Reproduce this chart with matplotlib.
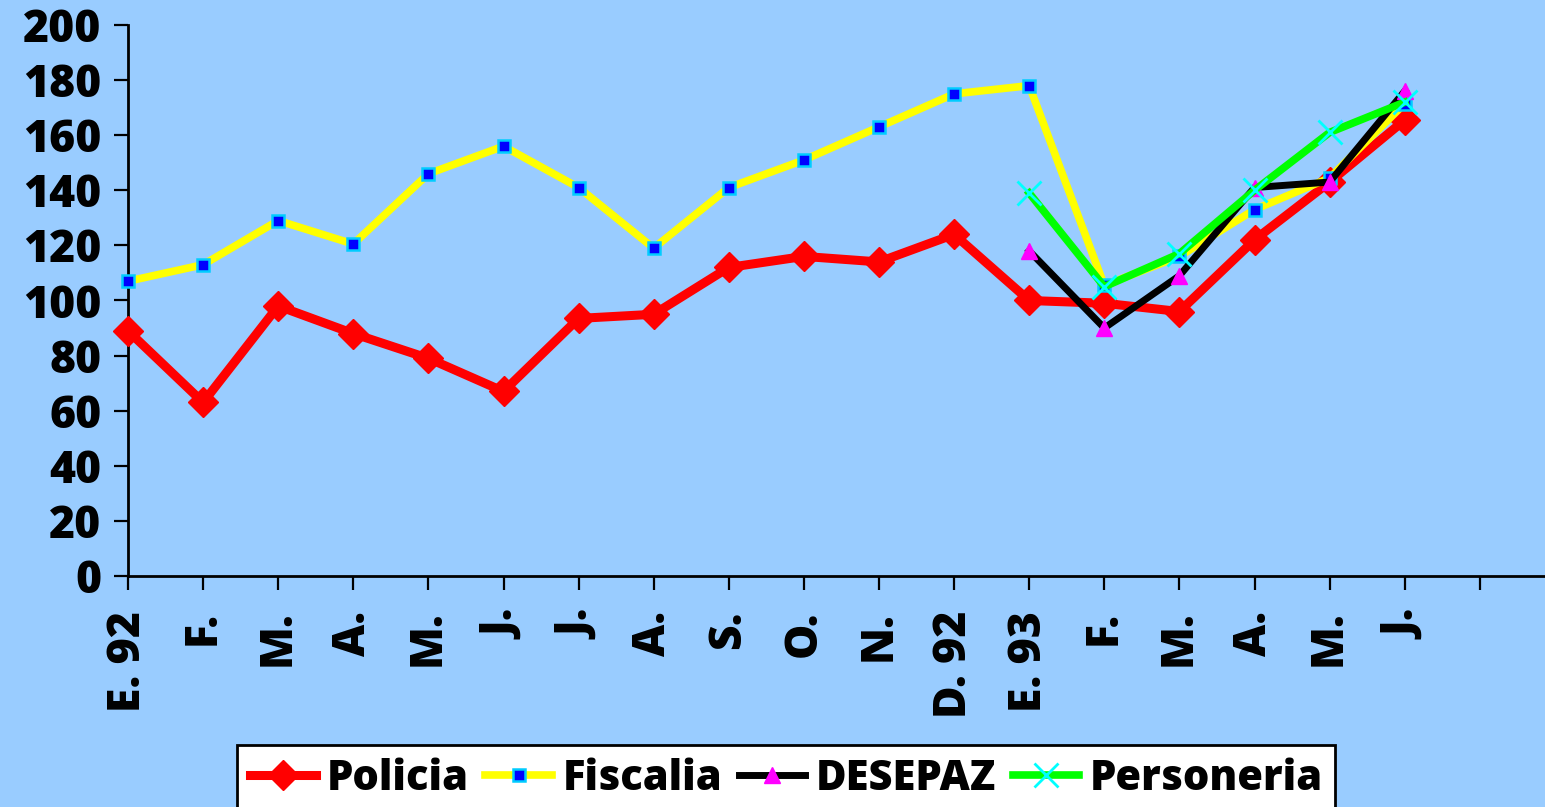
import numpy as np
import matplotlib
matplotlib.use("Agg")
import matplotlib.pyplot as plt

nan = np.nan

months = ["E. 92", "F.", "M.", "A.", "M.", "J.", "J.", "A.", "S.", "O.", "N.", "D. 92",
          "E. 93", "F.", "M.", "A.", "M.", "J."]

policia = [89, 63, 98, 88, 79, 67, 93.5, 95, 112, 116, 114, 124,
           100, 99, 96, 122, 143, 165.5]
fiscalia = [107, 113, 129, 120.5, 146, 156, 141, 119, 141, 151, 163, 175,
            178, 105.5, 116, 133, 144.5, 171.5]
desepaz = [nan] * 12 + [118, 90, 109, 141, 143, 176]
personeria = [nan] * 12 + [139, 105, 117, 140, 161, 172]

bg = "#99CCFF"
plt.rcParams['font.family'] = ['Open Sans', 'DejaVu Sans']
plt.rcParams['font.weight'] = 800

fig = plt.figure(figsize=(15.45, 8.07), dpi=100, facecolor=bg)
ax = fig.add_axes([128 / 1545, 231 / 807, 1417 / 1545, 551 / 807])
ax.set_facecolor(bg)

x = np.arange(len(months))

ax.plot(x, policia, color="red", lw=6.5, marker="D", ms=15, mfc="red", mec="red",
        label="Policia", zorder=3, clip_on=False)
ax.plot(x, fiscalia, color="yellow", lw=5.5, marker="s", ms=8.5, mfc="blue",
        mec="#00CCFF", mew=1.8, label="Fiscalia", zorder=4, clip_on=False)
ax.plot(x, desepaz, color="black", lw=5, marker="^", ms=12, mfc="magenta",
        mec="magenta", label="DESEPAZ", zorder=5)
ax.plot(x, personeria, color="#00FF00", lw=5.5, marker="x", ms=17, mec="cyan",
        mew=2, label="Personeria", zorder=6)

ax.set_xlim(0, 1417 / 75.1)
ax.set_ylim(0, 200)
ax.set_yticks(range(0, 201, 20))
ax.set_xticks(range(len(months) + 1))
ax.set_xticklabels(months + [""], rotation=90, va="top", ha="center")

for s in ["top", "right"]:
    ax.spines[s].set_visible(False)
for s in ["left", "bottom"]:
    ax.spines[s].set_linewidth(2)

ax.tick_params(axis="both", length=10, width=1.6, direction="out", labelsize=32)
ax.tick_params(axis="y", pad=9)
ax.tick_params(axis="x", pad=15)

leg = fig.legend(loc="upper left", bbox_to_anchor=(237 / 1545, 1 - 745 / 807),
                 ncol=4, fontsize=30, frameon=True, fancybox=False,
                 borderaxespad=0, borderpad=0.3, handlelength=1.6,
                 handletextpad=0.25, columnspacing=0.4)
leg.get_frame().set_facecolor("white")
leg.get_frame().set_edgecolor("black")
leg.get_frame().set_linewidth(2)
leg.get_frame().set_alpha(1)

fig.savefig("out.png", dpi=100, facecolor=bg)
